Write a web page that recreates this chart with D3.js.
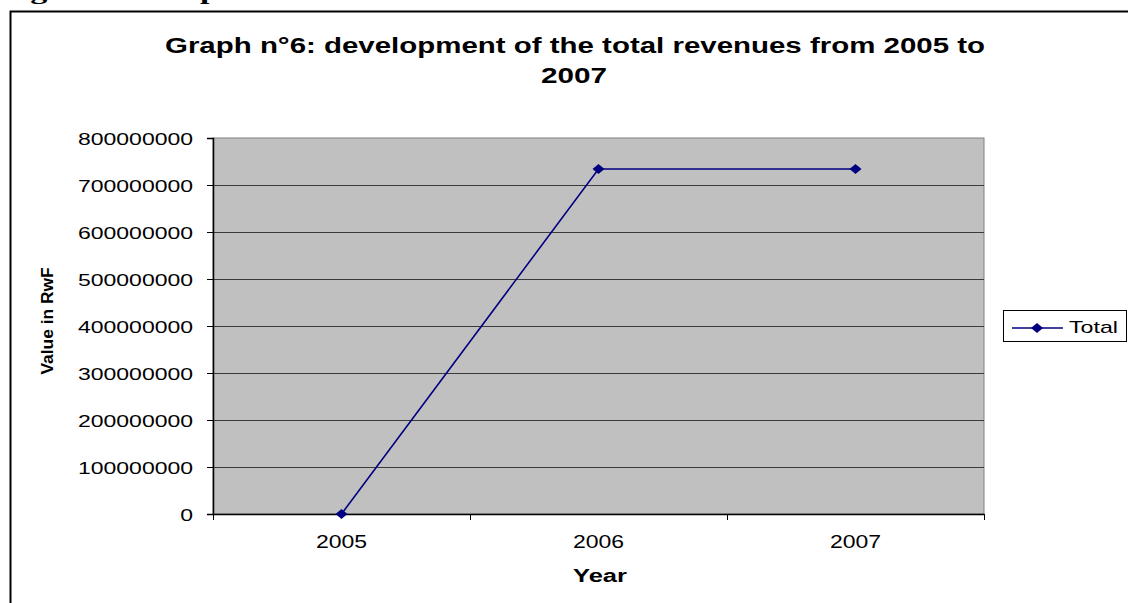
<!DOCTYPE html>
<html>
<head>
<meta charset="utf-8">
<script src="https://cdn.jsdelivr.net/npm/d3@7"></script>
<style>
  html, body { margin: 0; padding: 0; background: #fff; }
  svg { display: block; }
</style>
</head>
<body>
<svg id="chart" width="1128" height="603"></svg>
<script>
// Data
const years = ["2005", "2006", "2007"];
const totalRevenues = [0, 734000000, 734000000];
const yTicks = [0, 100000000, 200000000, 300000000, 400000000, 500000000, 600000000, 700000000, 800000000];
const seriesName = "Total";

const svg = d3.select("#chart");
const font = "Arial, 'Liberation Sans', sans-serif";

// Plot area
const plot = { left: 213, right: 984, top: 138, bottom: 514 };
const x = d3.scaleBand().domain(years).range([plot.left, plot.right]);
const y = d3.scaleLinear().domain([0, 800000000]).range([plot.bottom, plot.top]);

// Caption line above the frame (mostly off the page)
svg.append("text")
  .attr("x", 0).attr("y", -1)
  .attr("font-family", "'Liberation Serif', 'Times New Roman', serif")
  .attr("font-weight", "bold").attr("font-size", 22)
  .attr("textLength", 238).attr("lengthAdjust", "spacingAndGlyphs")
  .text("Figure 6: Graph");

// Outer chart frame
svg.append("path")
  .attr("d", "M10.5,603 V11.5 H1128")
  .attr("fill", "none").attr("stroke", "#000").attr("stroke-width", 2);

// Title
const title = [
  { t: "Graph n°6: development of the total revenues from 2005 to", cx: 575, y: 53, w: 820 },
  { t: "2007", cx: 574, y: 83, w: 66 }
];
svg.selectAll("text.title").data(title).join("text")
  .attr("class", "title")
  .attr("x", d => d.cx).attr("y", d => d.y)
  .attr("text-anchor", "middle")
  .attr("font-family", font).attr("font-weight", "bold").attr("font-size", 22)
  .attr("textLength", d => d.w).attr("lengthAdjust", "spacingAndGlyphs")
  .text(d => d.t);

// Plot background
svg.append("rect")
  .attr("x", plot.left).attr("y", plot.top)
  .attr("width", plot.right - plot.left).attr("height", plot.bottom - plot.top)
  .attr("fill", "#c0c0c0").attr("stroke", "#808080").attr("stroke-width", 1);

// Gridlines
svg.append("g").selectAll("line").data(yTicks.filter(v => v > 0 && v < 800000000)).join("line")
  .attr("x1", plot.left).attr("x2", plot.right)
  .attr("y1", d => Math.round(y(d)) + 0.5).attr("y2", d => Math.round(y(d)) + 0.5)
  .attr("stroke", "#3a3a3a").attr("stroke-width", 1.2);

const digitW = 12.78;

// Y axis
const yAxis = svg.append("g")
  .attr("transform", `translate(${plot.left},0)`)
  .call(d3.axisLeft(y).tickValues(yTicks).tickFormat(d3.format("d")).tickSizeOuter(0).tickSize(6).tickPadding(14));
yAxis.select(".domain").attr("stroke", "#000").attr("stroke-width", 1.5);
yAxis.selectAll(".tick line").attr("stroke", "#000");
yAxis.selectAll(".tick text")
  .attr("font-family", font).attr("font-size", 17).attr("fill", "#000")
  .attr("dy", "0.36em")
  .attr("textLength", function () { return this.textContent.length * digitW; })
  .attr("lengthAdjust", "spacingAndGlyphs");

// X axis
const xAxis = svg.append("g")
  .attr("transform", `translate(0,${plot.bottom})`)
  .call(d3.axisBottom(x).tickSize(0).tickPadding(0));
xAxis.select(".domain").attr("stroke", "#000").attr("stroke-width", 1.5);
xAxis.selectAll(".tick text")
  .attr("font-family", font).attr("font-size", 18).attr("fill", "#000")
  .attr("y", 34).attr("dy", 0)
  .attr("textLength", function () { return this.textContent.length * digitW; })
  .attr("lengthAdjust", "spacingAndGlyphs");
// Category boundary tick marks
const bounds = years.map(d => x(d)).concat([x(years[years.length - 1]) + x.bandwidth()]);
svg.append("g").selectAll("line").data(bounds).join("line")
  .attr("x1", d => Math.round(d) + 0.5).attr("x2", d => Math.round(d) + 0.5)
  .attr("y1", plot.bottom).attr("y2", plot.bottom + 6)
  .attr("stroke", "#000").attr("stroke-width", 1);

// Axis titles
svg.append("text")
  .attr("x", 600).attr("y", 582).attr("text-anchor", "middle")
  .attr("font-family", font).attr("font-weight", "bold").attr("font-size", 18)
  .attr("textLength", 54).attr("lengthAdjust", "spacingAndGlyphs")
  .text("Year");
svg.append("text")
  .attr("transform", "translate(53,321) rotate(-90)")
  .attr("text-anchor", "middle")
  .attr("font-family", font).attr("font-weight", "bold").attr("font-size", 16)
  .attr("textLength", 107).attr("lengthAdjust", "spacingAndGlyphs")
  .text("Value in RwF");

// Series line
const lineColor = "#000080";
const pts = years.map((d, i) => ({ year: d, v: totalRevenues[i] }));
svg.append("path")
  .datum(pts)
  .attr("fill", "none").attr("stroke", lineColor).attr("stroke-width", 1.6)
  .attr("d", d3.line().x(d => x(d.year) + x.bandwidth() / 2).y(d => y(d.v)));

const diamond = "M0,-5 L6,0 L0,5 L-6,0 Z";
svg.append("g").selectAll("path").data(pts).join("path")
  .attr("transform", d => `translate(${x(d.year) + x.bandwidth() / 2},${y(d.v)})`)
  .attr("d", diamond).attr("fill", lineColor);

// Legend
const legend = svg.append("g");
legend.append("rect")
  .attr("x", 1003.5).attr("y", 310.5).attr("width", 123).attr("height", 31)
  .attr("fill", "#fff").attr("stroke", "#000").attr("stroke-width", 1);
legend.append("line")
  .attr("x1", 1012).attr("x2", 1063).attr("y1", 328).attr("y2", 328)
  .attr("stroke", lineColor).attr("stroke-width", 1.6);
legend.append("path")
  .attr("transform", "translate(1037,328)").attr("d", diamond).attr("fill", lineColor);
legend.append("text")
  .attr("x", 1069).attr("y", 333)
  .attr("font-family", font).attr("font-size", 17)
  .attr("textLength", 49).attr("lengthAdjust", "spacingAndGlyphs")
  .text(seriesName);
</script>
</body>
</html>
